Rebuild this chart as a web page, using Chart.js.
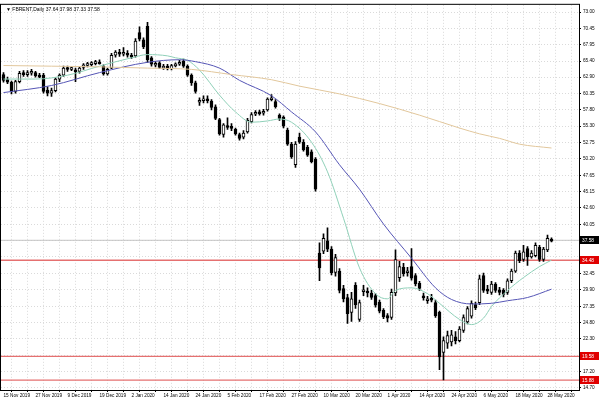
<!DOCTYPE html>
<html>
<head>
<meta charset="utf-8">
<script src="https://cdn.jsdelivr.net/npm/chart.js@4.4.1/dist/chart.umd.min.js"></script>
<style>
  html, body { margin: 0; padding: 0; background: #fff; }
</style>
</head>
<body>
<canvas id="chart" width="600" height="400"></canvas>
<script>
// FBRENT daily candles, 15 Nov 2019 .. end of May 2020 (one entry per bar)
const dateLabels = ['15 Nov 2019', '27 Nov 2019', '9 Dec 2019', '19 Dec 2019', '2 Jan 2020', '14 Jan 2020',
  '24 Jan 2020', '5 Feb 2020', '17 Feb 2020', '27 Feb 2020', '10 Mar 2020', '20 Mar 2020', '1 Apr 2020',
  '14 Apr 2020', '24 Apr 2020', '6 May 2020', '18 May 2020', '28 May 2020'];

const opens = [
  63.3, 62.5, 62.1, 60.7, 62.2, 63.5, 63.4, 63.5, 63.6, 63.1,
  63.2, 60.9, 60.4, 60.8, 62.6, 63.2, 64.3, 64.2, 64.0, 63.8,
  64.4, 64.8, 64.9, 65.1, 65.2, 64.6, 63.4, 64.3, 66.3, 66.7,
  66.5, 66.6, 66.3, 66.2, 69.8, 68.7, 70.8, 65.9, 64.9, 65.1,
  64.4, 64.6, 64.2, 64.7, 64.9, 65.4, 64.6, 63.2, 62.0, 59.0,
  59.3, 59.5, 59.2, 58.3, 56.3, 54.0, 55.3, 55.2, 54.8, 54.0,
  53.6, 54.4, 56.0, 57.2, 57.4, 57.3, 57.8, 59.5, 59.1, 57.0,
  56.7, 54.7, 52.5, 49.3, 53.6, 52.8, 52.0, 51.3, 50.2, 35.6,
  35.9, 37.5, 36.2, 32.6, 32.8, 30.1, 28.7, 26.4, 30.6, 25.3,
  29.6, 29.6, 29.4, 29.0, 28.0, 26.7, 25.9, 25.6, 29.4, 31.8,
  33.4, 32.6, 33.5, 32.1, 30.9, 28.9, 28.3, 28.6, 27.9, 26.4,
  20.2, 21.6, 21.8, 22.6, 22.0, 23.6, 24.9, 25.8, 27.6, 27.9,
  32.1, 29.9, 29.5, 30.8, 29.9, 29.8, 29.5, 31.3, 32.8, 35.6,
  34.6, 36.3, 35.0, 35.2, 36.5, 34.6, 36.1, 37.64];
const highs = [
  63.6, 62.9, 62.3, 62.4, 63.8, 63.9, 63.9, 64.1, 63.8, 63.5,
  63.5, 61.4, 61.2, 62.8, 63.4, 64.6, 64.6, 64.5, 64.3, 64.5,
  65.0, 65.2, 65.3, 65.5, 65.6, 64.8, 64.3, 66.6, 67.0, 67.2,
  67.5, 67.0, 66.6, 68.9, 70.7, 69.0, 71.4, 66.1, 65.3, 65.3,
  64.9, 64.9, 64.9, 65.1, 65.5, 65.7, 64.8, 63.4, 62.3, 59.7,
  60.0, 60.0, 59.4, 58.6, 56.5, 55.7, 56.6, 55.7, 55.0, 54.2,
  54.6, 56.5, 57.4, 57.7, 57.8, 57.9, 59.7, 60.2, 59.4, 57.2,
  56.9, 55.0, 52.8, 52.9, 54.2, 53.2, 52.3, 51.6, 50.4, 37.2,
  38.6, 39.5, 36.6, 35.4, 33.2, 30.6, 29.2, 29.5, 31.0, 28.3,
  30.6, 30.2, 29.8, 29.3, 28.3, 27.0, 26.2, 30.0, 36.1, 34.3,
  34.0, 33.4, 36.3, 32.4, 31.2, 29.4, 28.9, 29.2, 28.3, 26.6,
  22.6, 23.5, 23.6, 23.4, 24.2, 26.0, 27.3, 28.2, 28.0, 32.2,
  32.5, 30.6, 31.2, 31.0, 30.3, 30.1, 31.6, 33.1, 35.9, 36.0,
  36.8, 36.6, 36.0, 37.2, 36.8, 36.5, 38.4, 37.98];
const lows = [
  62.1, 61.9, 60.3, 60.4, 62.0, 63.0, 63.0, 63.2, 62.9, 62.8,
  60.4, 60.0, 59.9, 60.6, 62.2, 63.0, 63.8, 63.9, 62.2, 63.5,
  64.1, 64.5, 64.6, 64.8, 64.9, 63.2, 63.2, 64.2, 66.0, 66.1,
  66.2, 66.0, 65.8, 66.0, 68.5, 67.3, 65.2, 64.6, 64.5, 64.2,
  64.1, 64.0, 64.0, 64.5, 64.7, 64.4, 63.0, 61.6, 60.4, 58.5,
  58.9, 58.9, 57.8, 56.3, 53.9, 53.6, 54.8, 54.6, 53.9, 53.1,
  53.3, 54.2, 55.8, 56.9, 57.0, 57.0, 57.6, 59.2, 58.1, 56.2,
  55.0, 52.3, 50.3, 48.9, 52.6, 51.4, 50.6, 49.6, 45.2, 31.3,
  35.5, 35.8, 32.2, 32.0, 29.4, 28.0, 24.7, 25.0, 27.0, 25.0,
  29.0, 28.8, 28.4, 27.2, 26.3, 25.4, 24.9, 25.3, 29.0, 31.2,
  32.0, 32.0, 31.4, 30.5, 29.8, 28.3, 27.8, 28.0, 25.6, 17.5,
  15.9, 20.8, 21.2, 21.5, 21.8, 23.3, 24.6, 25.5, 26.8, 27.6,
  29.5, 29.3, 29.2, 29.5, 29.1, 28.8, 29.2, 31.0, 32.6, 34.1,
  34.3, 33.7, 34.8, 35.0, 34.3, 34.3, 35.8, 37.33];
const closes = [
  62.4, 62.1, 60.7, 62.2, 63.5, 63.4, 63.5, 63.8, 63.1, 63.0,
  60.7, 60.4, 60.8, 62.6, 63.2, 64.3, 64.2, 64.3, 63.8, 64.3,
  64.8, 64.9, 65.1, 65.2, 65.0, 63.4, 64.1, 66.3, 66.8, 66.5,
  66.7, 66.3, 66.0, 68.5, 68.8, 67.6, 65.6, 64.9, 64.9, 64.4,
  64.5, 64.2, 64.7, 64.9, 65.2, 64.6, 63.2, 62.0, 60.7, 59.3,
  59.5, 59.3, 58.2, 56.5, 54.1, 55.5, 55.2, 55.0, 54.1, 53.4,
  54.2, 56.2, 57.1, 57.4, 57.3, 57.6, 59.5, 59.6, 58.3, 56.5,
  55.3, 52.5, 50.5, 52.5, 52.8, 51.6, 50.8, 49.8, 45.5, 33.3,
  37.9, 36.2, 32.5, 34.9, 29.8, 28.5, 26.2, 28.5, 27.6, 27.9,
  29.9, 29.5, 28.7, 27.5, 26.6, 25.7, 25.5, 29.5, 34.6, 33.5,
  32.4, 32.8, 31.7, 30.8, 30.1, 28.7, 28.4, 28.3, 25.9, 19.5,
  22.0, 22.8, 22.9, 22.0, 23.8, 25.6, 27.0, 27.8, 27.1, 31.6,
  29.8, 29.8, 30.8, 29.8, 29.5, 29.2, 31.3, 32.8, 35.6, 34.4,
  35.8, 35.0, 35.6, 36.8, 34.6, 36.2, 37.9, 37.58];

// moving averages: bar index -> value
const fastMaBars = [0, 8, 16, 24, 32, 36, 41, 43, 46, 49, 54, 58, 62, 66, 69, 72, 77, 81, 85, 89, 93, 96, 98, 102, 106, 109, 114, 117, 120, 122, 126, 130, 134, 137];
const fastMaVals = [62.6, 62.6, 63.2, 64.6, 65.9, 66.4, 66.2, 65.9, 65.5, 64.0, 60.1, 57.5, 55.9, 56.1, 56.4, 55.9, 52.8, 48.2, 41.0, 33.3, 29.3, 28.5, 29.8, 30.2, 29.3, 27.8, 25.3, 24.5, 25.5, 27.3, 29.8, 31.8, 33.5, 34.5];
const midMaBars = [0, 12, 24, 36, 44, 48, 54, 59, 67, 72, 78, 84, 89, 95, 102, 108, 112, 117, 122, 126, 131, 137];
const midMaVals = [60.5, 61.6, 63.6, 65.2, 65.6, 65.3, 64.3, 62.4, 60.0, 57.5, 54.4, 49.3, 45.5, 40.1, 34.8, 30.2, 28.4, 27.7, 27.8, 28.2, 28.7, 30.0];
const slowMaBars = [0, 12, 24, 36, 47, 57, 67, 74, 84, 94, 104, 114, 119, 124, 129, 137];
const slowMaVals = [64.7, 64.6, 64.5, 64.3, 64.1, 63.3, 62.5, 61.5, 60.3, 58.8, 57.0, 55.0, 54.1, 53.4, 52.5, 51.9];

// right price scale
const yTickValues = [73.00, 70.45, 67.95, 65.40, 62.90, 60.35, 57.80, 55.30, 52.75, 50.20, 47.65, 45.15,
  42.60, 40.05, 37.50, 35.00, 32.45, 29.90, 27.35, 24.80, 22.30, 19.75, 17.20, 14.70];
const yTickLabels = ['73.00', '70.45', '67.95', '65.40', '62.90', '60.35', '57.80', '55.30', '52.75', '50.20', '47.65', '45.15',
  '42.60', '40.05', '', '', '32.45', '29.90', '27.35', '24.80', '22.30', '', '17.20', '14.70'];

// horizontal levels (red) and current bid
const levelValues = [34.48, 19.58, 15.88];
const levelLabels = ['34.48', '19.58', '15.88'];
const bidValue = 37.58;
const bidLabel = '37.58';
const titleText = '\u25BC FBRENT,Daily 37.64 37.98 37.33 37.58';

const FONT = '"Liberation Sans", Arial, sans-serif';
const xMin = -0.625, xMax = 143.875;

// candle bodies and wicks as floating bars
const bodyData = opens.map((o, i) => {
  let lo = Math.min(o, closes[i]), hi = Math.max(o, closes[i]);
  if (hi - lo < 0.3) { const m = (hi + lo) / 2; lo = m - 0.15; hi = m + 0.15; }
  return { x: i, y: [lo, hi] };
});
const bodyColors = opens.map((o, i) => closes[i] >= o ? '#ffffff' : '#000000');
const wickData = highs.map((h, i) => ({ x: i, y: [lows[i], h] }));

function maPoints(bars, vals) {
  return bars.map((b, i) => ({ x: b, y: vals[i] }));
}
function flatLine(v) {
  return [{ x: xMin, y: v }, { x: xMax, y: v }];
}

const xTicks = [];
for (let b = 0; b <= 140; b += 4) xTicks.push(b);

const priceTags = {
  id: 'priceTags',
  afterDraw(chart) {
    const { ctx, chartArea, scales } = chart;
    const y = scales.y;
    ctx.save();
    // frame
    ctx.strokeStyle = '#000';
    ctx.lineWidth = 1;
    ctx.strokeRect(chartArea.left - 0.5, chartArea.top - 0.5, chartArea.right - chartArea.left + 1, chartArea.bottom - chartArea.top + 1);
    // title
    ctx.font = '5px ' + FONT;
    ctx.fillStyle = '#000';
    ctx.textBaseline = 'middle';
    ctx.textAlign = 'left';
    ctx.fillText(titleText, chartArea.left + 5, chartArea.top + 5);
    // tags on the price scale
    const tags = levelValues.map((v, i) => ({ v, t: levelLabels[i], bg: '#e00000' }));
    tags.push({ v: bidValue, t: bidLabel, bg: '#000000' });
    ctx.font = '4.8px ' + FONT;
    tags.forEach(tag => {
      const py = Math.round(y.getPixelForValue(tag.v));
      ctx.fillStyle = tag.bg;
      ctx.fillRect(chartArea.right + 1, py - 4, 19, 8);
      ctx.fillStyle = '#fff';
      ctx.fillText(tag.t, chartArea.right + 3, py + 0.5);
    });
    ctx.restore();
  }
};

const gridOpts = { color: '#dadada', tickLength: 2, tickColor: '#000', tickBorderDash: [] };
const borderOpts = { display: true, color: '#000', dash: [1, 2] };

new Chart(document.getElementById('chart'), {
  type: 'bar',
  data: {
    datasets: [
      { type: 'line', data: maPoints(slowMaBars, slowMaVals), borderColor: '#e2c79c', borderWidth: 1, pointRadius: 0, cubicInterpolationMode: 'monotone', order: 0 },
      { type: 'line', data: maPoints(midMaBars, midMaVals), borderColor: '#5555b5', borderWidth: 1, pointRadius: 0, cubicInterpolationMode: 'monotone', order: 0 },
      { type: 'line', data: maPoints(fastMaBars, fastMaVals), borderColor: '#8fd0b8', borderWidth: 1, pointRadius: 0, cubicInterpolationMode: 'monotone', order: 0 },
      { type: 'line', data: flatLine(bidValue), borderColor: '#c4c4c4', borderWidth: 1, pointRadius: 0, order: 3 },
      ...levelValues.map(v => ({ type: 'line', data: flatLine(v), borderColor: '#e57070', borderWidth: 1.3, pointRadius: 0, order: 3 })),
      { data: bodyData, backgroundColor: bodyColors, borderColor: '#000', borderWidth: 1, borderSkipped: false, barThickness: 3, grouped: false, order: 1 },
      { data: wickData, backgroundColor: '#000', borderWidth: 0, barThickness: 1, grouped: false, order: 2 }
    ]
  },
  options: {
    responsive: false,
    animation: false,
    layout: { padding: { left: 1, top: 2, right: 0, bottom: 0 } },
    plugins: { legend: { display: false }, tooltip: { enabled: false } },
    scales: {
      x: {
        type: 'linear',
        min: xMin,
        max: xMax,
        offset: false,
        afterFit: s => { s.height = 10; },
        afterBuildTicks: s => { s.ticks = xTicks.map(v => ({ value: v })); },
        grid: gridOpts,
        border: borderOpts,
        ticks: {
          autoSkip: false, maxRotation: 0, align: 'start', padding: 1,
          color: '#000', font: { family: FONT, size: 4.7 },
          callback: (v) => (v % 8 === 0 && dateLabels[v / 8]) ? dateLabels[v / 8] : ''
        }
      },
      y: {
        position: 'right',
        min: 14.35,
        max: 74.12,
        afterFit: s => { s.width = 21; },
        afterBuildTicks: s => { s.ticks = yTickValues.map(v => ({ value: v })); },
        grid: gridOpts,
        border: borderOpts,
        ticks: {
          autoSkip: false, padding: 2, color: '#000', font: { family: FONT, size: 4.7 },
          callback: (v, i) => yTickLabels[i]
        }
      }
    }
  },
  plugins: [priceTags]
});
</script>
</body>
</html>
